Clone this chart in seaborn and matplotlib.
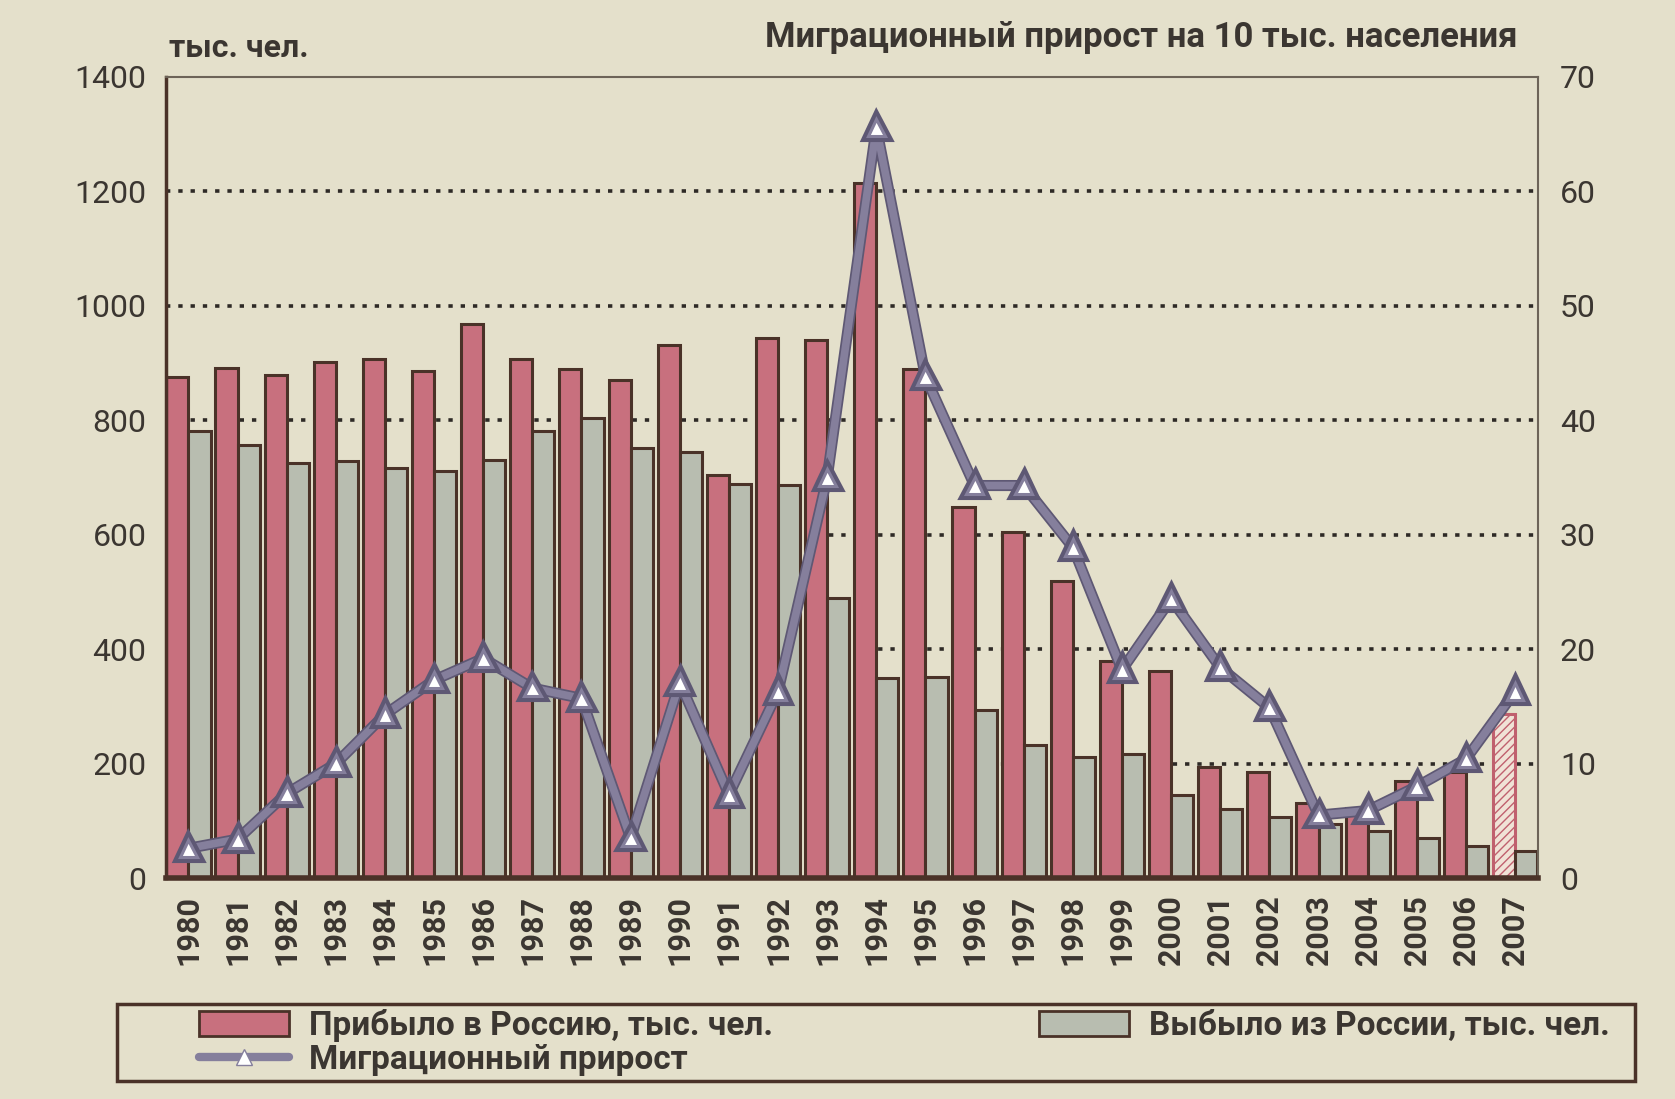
import numpy as np
import pandas as pd
import matplotlib
matplotlib.use("Agg")
import matplotlib.pyplot as plt
import matplotlib.patheffects as pe
from matplotlib.patches import Patch, Rectangle
from matplotlib.lines import Line2D
import seaborn as sns

# ================= DATA =================
years = [str(y) for y in range(1980, 2008)]
arrived = [875, 892, 879, 901, 907, 886, 968, 907, 890, 870,
           931, 704, 944, 940, 1215, 890, 648, 605, 520, 380,
           362, 195, 185, 132, 122, 170, 186, 287]
departed = [782, 756, 726, 728, 717, 711, 730, 782, 804, 752,
            745, 689, 687, 490, 350, 352, 293, 232, 212, 216,
            146, 121, 106, 95, 82, 70, 56, 48]
growth = [2.6, 3.4, 7.4, 10.0, 14.3, 17.3, 19.2, 16.6, 15.7, 3.5,
          17.1, 7.3, 16.3, 35.0, 65.6, 43.8, 34.3, 34.3, 28.9, 18.2,
          24.4, 18.4, 14.9, 5.5, 5.9, 8.0, 10.4, 16.3]

arr_label = "Прибыло в Россию, тыс. чел."
dep_label = "Выбыло из России, тыс. чел."
line_label = "Миграционный прирост"

# ================= COLORS =================
bg = "#e4e0cb"
red = "#c8707e"
grey = "#b8bdb0"
edge = "#4a3228"
line_c = "#857f9c"
text_c = "#3b3631"

df = pd.DataFrame({
    "year": years * 2,
    "value": arrived + departed,
    "kind": [arr_label] * len(years) + [dep_label] * len(years),
})

sns.set_theme(style="white")
plt.rcParams["font.family"] = ["Liberation Sans Narrow", "Roboto", "DejaVu Sans"]
plt.rcParams["text.color"] = text_c

fig = plt.figure(figsize=(16.75, 10.99), dpi=100, facecolor=bg)
ax = fig.add_axes([0.099, 0.201, 0.819, 0.729], facecolor=bg)

# ================= BARS =================
sns.barplot(
    data=df, x="year", y="value", hue="kind",
    palette={arr_label: red, dep_label: grey},
    width=0.9, gap=0, saturation=1,
    edgecolor=edge, linewidth=2.2, legend=False, ax=ax
)

# last year arrivals - preliminary, hatched
last = ax.containers[0][-1]
last.set_facecolor("#f0e2d6")
last.set_hatch("////")
last.set_edgecolor("#c0606e")

ax.set_ylim(0, 1400)
ax.set_xlim(-0.46, len(years) - 0.54)
ax.set_yticks(range(0, 1401, 200))
ax.set_xlabel("")
ax.set_ylabel("")
ax.set_axisbelow(True)
for v in range(200, 1201, 200):
    ax.axhline(v, color="#2e2a26", lw=2.6, ls=(0, (1.2, 2.2)), zorder=0)

ax.tick_params(axis="y", length=0, labelsize=23, pad=14, labelcolor=text_c)
ax.tick_params(axis="x", length=0, labelsize=22, pad=12, labelcolor=text_c, rotation=90)
for lab in ax.get_xticklabels():
    lab.set_fontweight("bold")

for side in ["top", "right"]:
    ax.spines[side].set_color("#6d6458")
    ax.spines[side].set_linewidth(1.5)
ax.spines["left"].set_color(edge)
ax.spines["left"].set_linewidth(2.5)
ax.spines["bottom"].set_color(edge)
ax.spines["bottom"].set_linewidth(4)

# ================= LINE (right axis) =================
ax2 = ax.twinx()
sns.lineplot(
    x=np.arange(len(years)), y=growth, ax=ax2,
    color=line_c, lw=5.5, marker="^", markersize=12,
    markerfacecolor="white", markeredgecolor=line_c, markeredgewidth=2.2
)
ax2.lines[0].set_path_effects([pe.Stroke(linewidth=8, foreground="#5e5874"), pe.Normal()])
ax2.set_ylim(0, 70)
ax2.set_yticks(range(0, 71, 10))
ax2.set_ylabel("")
ax2.tick_params(axis="y", length=0, labelsize=23, pad=16, labelcolor=text_c)
for s in ax2.spines.values():
    s.set_visible(False)

# ================= TEXTS =================
fig.text(0.101, 0.956, "тыс. чел.", fontsize=23, fontweight="bold", va="center", color=text_c)
fig.text(0.906, 0.966, "Миграционный прирост на 10 тыс. населения",
         fontsize=25, fontweight="bold", ha="right", va="center", color=text_c)

# ================= LEGEND =================
fig.patches.append(Rectangle(
    (0.070, 0.016), 0.906, 0.070, transform=fig.transFigure,
    facecolor=bg, edgecolor=edge, lw=2.5, zorder=0
))
handles = [
    Patch(facecolor=red, edgecolor=edge, lw=2),
    Line2D([], [], color=line_c, lw=6, marker="^", markersize=11,
           markerfacecolor="white", markeredgecolor=line_c),
    Patch(facecolor=grey, edgecolor=edge, lw=2),
]
labels = [arr_label, line_label, dep_label]
leg = fig.legend(
    handles, labels, loc="lower left",
    bbox_to_anchor=(0.117, 0.018, 0.846, 0.066), mode="expand",
    ncol=2, fontsize=24, frameon=False, borderaxespad=0,
    handlelength=2.7, handleheight=0.8, borderpad=0.1,
    labelspacing=0.05, handletextpad=0.6
)
for t in leg.get_texts():
    t.set_fontweight("bold")
    t.set_color(text_c)

fig.savefig("out.png", dpi=100, facecolor=bg)
